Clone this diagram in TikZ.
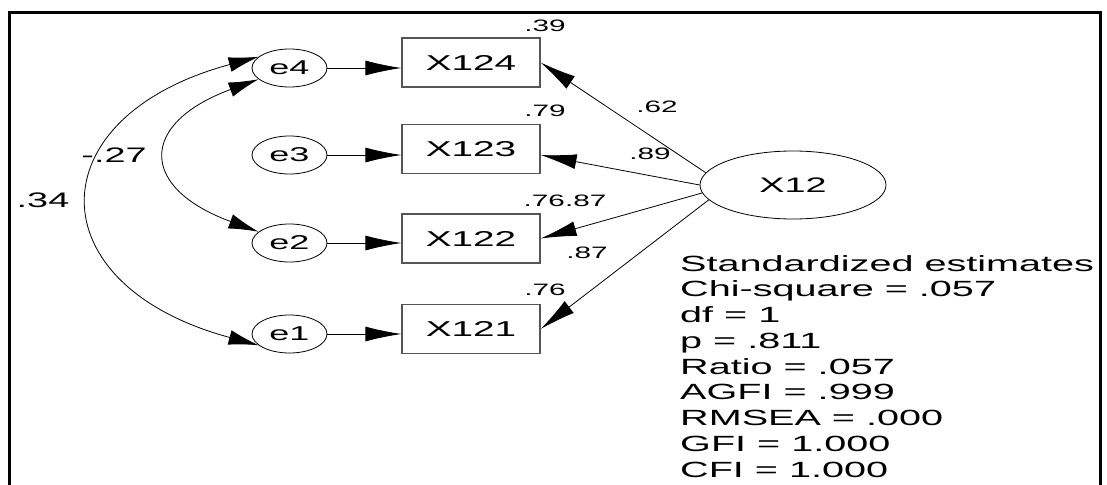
\documentclass[tikz,border=0pt]{standalone}
\usepackage{fontspec}
\setmainfont{Liberation Sans}[FakeStretch=1.8]
\usetikzlibrary{arrows.meta, shapes.geometric}
\definecolor{BoxGray}{HTML}{555555}
\tikzset{
  obsbox/.style={draw=BoxGray, line width=1.2pt, minimum width=138pt, minimum height=49pt, inner sep=0pt, font=\fontsize{21.5}{24}\selectfont},
  errnode/.style={ellipse, draw, line width=0.8pt, minimum width=75pt, minimum height=38pt, inner sep=0pt, font=\fontsize{20}{24}\selectfont},
  latent/.style={ellipse, draw, line width=0.8pt, minimum width=186pt, minimum height=68pt, inner sep=0pt, font=\fontsize{21}{24}\selectfont},
  regarrow/.style={-{Latex[length=36pt, width=15pt]}, line width=0.8pt},
  covarrow/.style={{Latex[length=30pt, width=15pt]}-{Latex[length=30pt, width=15pt]}, line width=0.8pt},
  smalllbl/.style={inner sep=0pt, font=\fontsize{16.5}{19}\selectfont},
  biglbl/.style={inner sep=0pt, font=\fontsize{21}{24}\selectfont}
}

\begin{document}
\begin{tikzpicture}[x=1pt, y=-1pt,
  stats/.style={inner sep=0pt, align=left, font=\fontsize{22}{25.75}\selectfont}
]
\useasboundingbox (0,0) rectangle (1107,484);
\draw[line width=3pt] (9,490) -- (9,13) -- (1100,13) -- (1100,490);

% error terms
\node[errnode] (e4) at (289.5,68) {e4};
\node[errnode] (e3) at (289.5,155) {e3};
\node[errnode] (e2) at (289.5,243) {e2};
\node[errnode] (e1) at (289.5,334) {e1};

% observed variables
\node[obsbox] (X124) at (471,62.5) {X124};
\node[obsbox] (X123) at (471,149) {X123};
\node[obsbox] (X122) at (471,238.5) {X122};
\node[obsbox] (X121) at (471,329) {X121};

\node[latent] (X12) at (793,185) {X12};

\draw[regarrow] (e4.east) -- (X124.west |- e4.east);
\draw[regarrow] (e3.east) -- (X123.west |- e3.east);
\draw[regarrow] (e2.east) -- (X122.west |- e2.east);
\draw[regarrow] (e1.east) -- (X121.west |- e1.east);

\draw[regarrow] (X12.172) -- (X124.east);
\draw[regarrow] (X12.180) -- ([yshift=-6pt]X123.east);
\draw[regarrow] (X12.185) -- (X122.east);
\draw[regarrow] (X12.190) -- (X121.east);

% covariances
\draw[covarrow] (e4.160) .. controls +(-223,60) and +(-223,-60) .. (e1.200);
\draw[covarrow] (e4.200) .. controls +(-120,44) and +(-120,-44) .. (e2.160);

% estimates
\node[smalllbl] (r124) at (545,26) {.39};
\node[smalllbl] (r123) at (545,111) {.79};
\node[smalllbl] (r122) at (565,201) {.76.87};
\node[smalllbl] (r121) at (545,290) {.76};
\node[smalllbl] (w124) at (657,107) {.62};
\node[smalllbl] (w123) at (650,154) {.89};
\node[smalllbl] (w122) at (587,253) {.87};
\node[biglbl] (c41) at (43,200) {.34};
\node[biglbl] (c42) at (114,155) {-.27};

\node[stats, anchor=north west] (fitstats) at (680,255) {Standardized estimates\\Chi-square = .057\\df = 1\\p = .811\\Ratio = .057\\AGFI = .999\\RMSEA = .000\\GFI = 1.000\\CFI = 1.000};
\end{tikzpicture}
\end{document}
